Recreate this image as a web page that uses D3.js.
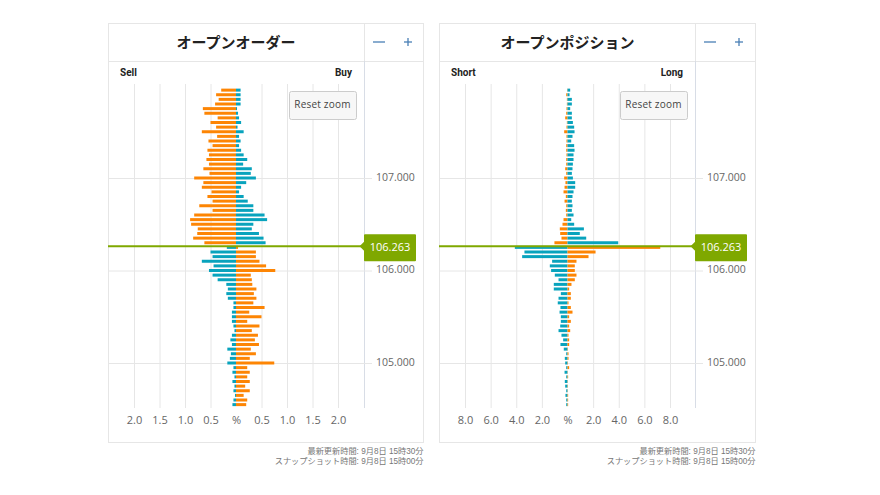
<!DOCTYPE html>
<html><head><meta charset="utf-8">
<script src="https://d3js.org/d3.v7.min.js"></script>
<style>html,body{margin:0;padding:0;background:#fff}svg{display:block}</style>
</head><body><svg id="c" width="880" height="495"></svg>
<script>
const prices=[107.95,107.90,107.85,107.80,107.75,107.70,107.65,107.60,107.55,107.50,107.45,107.40,107.35,107.30,107.25,107.20,107.15,107.10,107.05,107.00,106.95,106.90,106.85,106.80,106.75,106.70,106.65,106.60,106.55,106.50,106.45,106.40,106.35,106.30,106.25,106.20,106.15,106.10,106.05,106.00,105.95,105.90,105.85,105.80,105.75,105.70,105.65,105.60,105.55,105.50,105.45,105.40,105.35,105.30,105.25,105.20,105.15,105.10,105.05,105.00,104.95,104.90,104.85,104.80,104.75,104.70,104.65,104.60,104.55];
const orderLeft=[.29,.39,.34,.41,.65,.62,.36,.50,.39,.67,.37,.54,.46,.56,.53,.58,.53,.64,.52,.82,.64,.67,.48,.56,.46,.72,.46,.82,.90,.88,.75,.76,.84,.62,.18,.50,.46,.67,.44,.53,.46,.36,.19,.16,.19,.16,.05,.05,.08,.08,.08,.05,.03,.08,.11,.08,.17,.10,.12,.17,.05,.07,.03,.07,.03,.05,.02,.05,.07];
const orderRight=[.09,.09,.09,.09,.02,.04,.06,.10,.03,.15,.06,.09,.06,.10,.15,.22,.14,.31,.29,.39,.20,.10,.06,.15,.23,.34,.34,.56,.61,.34,.31,.45,.54,.58,.04,.39,.39,.46,.59,.77,.29,.31,.32,.40,.35,.40,.34,.56,.26,.50,.22,.46,.31,.43,.37,.45,.29,.39,.27,.75,.22,.27,.22,.27,.18,.27,.15,.22,.20];
const positionLeft=[.03,.10,.05,.05,.08,.10,.18,.05,.08,.26,.08,.08,.10,.10,.08,.10,.10,.18,.10,.26,.16,.23,.31,.13,.23,.10,.13,.10,.31,.39,.60,.57,.47,1.02,4.11,3.36,3.54,1.20,1.38,1.28,.99,.70,1.07,1.07,.52,.70,.76,.55,.62,.52,.52,.57,.70,.47,.34,.55,.29,.10,.21,.18,.10,.23,.10,.21,.18,.10,.16,.10,.10];
const positionRight=[.21,.16,.34,.34,.21,.34,.34,.42,.52,.55,.39,.29,.52,.55,.47,.47,.42,.39,.34,.42,.60,.60,.47,.39,.34,.39,.34,.47,.29,.52,1.28,.96,1.46,3.96,7.24,2.19,1.64,.70,.57,.57,.70,.57,.31,.13,.26,.26,.08,.26,.39,.13,.26,.13,.21,.08,.13,.13,.03,.08,.08,.03,.13,.02,.05,.02,.03,.02,.05,.05,.05];
const currentPrice=106.263;
const priceTicks=[107,106,105];
const orderTicks=[-2,-1.5,-1,-.5,0,.5,1,1.5,2];
const positionTicks=[-8,-6,-4,-2,0,2,4,6,8];
const footer=["最新更新時間: 9月8日 15時30分","スナップショット時間: 9月8日 15時00分"];

const ORANGE="#fd8504",TEAL="#08a3bd",GREEN="#7fa800",LINE="#e6e6e6",TXT="#666";
const FONT="'Open Sans',sans-serif",CJK="'Noto Sans CJK JP',sans-serif";
const svg=d3.select("#c");
const y=d3.scaleLinear().domain([105,107]).range([363,178]);

function panel(o){
  const g=svg.append("g");
  const W=o.x0, R=o.x0+o.w, D=o.div;
  g.append("rect").attr("x",W+.5).attr("y",23.5).attr("width",o.w).attr("height",419).attr("fill","#fff").attr("stroke",LINE);
  g.append("line").attr("x1",W).attr("x2",R).attr("y1",61.5).attr("y2",61.5).attr("stroke",LINE);
  g.append("line").attr("x1",D+.5).attr("x2",D+.5).attr("y1",23).attr("y2",61).attr("stroke",LINE);
  g.append("line").attr("x1",D+.5).attr("x2",D+.5).attr("y1",61).attr("y2",408).attr("stroke","#d8dde6");

  const x=d3.scaleLinear().domain(o.domain).range(o.range);
  const ax=g.append("g").attr("transform","translate(0,408)")
    .call(d3.axisBottom(x).tickValues(o.ticks).tickSize(-324).tickPadding(8)
      .tickFormat(t=>t===0?"%":Math.abs(t).toFixed(1)));
  ax.select(".domain").remove();
  ax.selectAll(".tick line").attr("stroke",LINE).attr("display",t=>t===0?"none":null);
  ax.selectAll("text").attr("font-family",FONT).attr("font-size",11).attr("fill",TXT);

  const gy=g.append("g").attr("transform",`translate(${D},0)`)
    .call(d3.axisLeft(y).tickValues(priceTicks).tickSize(D-W).tickFormat(""));
  gy.select(".domain").remove();
  gy.selectAll("line").attr("stroke",LINE);
  const ay=g.append("g").attr("transform",`translate(${D},0)`)
    .call(d3.axisRight(y).tickValues(priceTicks).tickSize(8).tickPadding(4).tickFormat(d3.format(".3f")));
  ay.select(".domain").remove();
  ay.selectAll("line").attr("stroke",LINE);
  ay.selectAll("text").attr("font-family",FONT).attr("font-size",10.5).attr("fill",TXT).attr("dy","0.2em");

  const rows=prices.map((p,i)=>({p,l:o.left[i],r:o.right[i]}));
  const h=3;
  g.append("g").selectAll("rect").data(rows).join("rect")
    .attr("x",d=>x(-d.l)).attr("width",d=>x(0)-x(-d.l))
    .attr("y",d=>y(d.p)-h/2).attr("height",h)
    .attr("fill",d=>d.p>currentPrice?ORANGE:TEAL);
  g.append("g").selectAll("rect").data(rows).join("rect")
    .attr("x",x(0)).attr("width",d=>x(d.r)-x(0))
    .attr("y",d=>y(d.p)-h/2).attr("height",h)
    .attr("fill",d=>d.p>currentPrice?TEAL:ORANGE);

  const cy=y(currentPrice);
  g.append("line").attr("x1",W).attr("x2",D).attr("y1",cy).attr("y2",cy).attr("stroke",GREEN).attr("stroke-width",2);
  g.append("path").attr("fill",GREEN).attr("stroke",GREEN).attr("stroke-width",2).attr("stroke-linejoin","round")
    .attr("d",`M${D-3},${cy}L${D+1},${cy-4}V${cy-11}H${D+51}V${cy+14}H${D+1}V${cy+4}Z`);
  g.append("text").attr("x",D+26).attr("y",cy+4.5).attr("text-anchor","middle").attr("fill","#fff")
    .attr("font-family",FONT).attr("font-size",11).text(currentPrice.toFixed(3));

  g.append("text").attr("x",o.titleX).attr("y",48).attr("text-anchor","middle").attr("font-family",CJK)
    .attr("font-weight",700).attr("font-size",15).attr("fill","#222").text(o.title);
  const bc="#4a7fb5";
  g.append("line").attr("x1",D+9).attr("x2",D+21).attr("y1",42).attr("y2",42).attr("stroke",bc).attr("stroke-width",1.3);
  g.append("line").attr("x1",D+40).attr("x2",D+48).attr("y1",42).attr("y2",42).attr("stroke",bc).attr("stroke-width",1.3);
  g.append("line").attr("x1",D+44).attr("x2",D+44).attr("y1",38).attr("y2",46).attr("stroke",bc).attr("stroke-width",1.3);

  g.append("text").attr("x",W+12).attr("y",76).attr("font-family","Roboto,sans-serif").attr("font-weight",700)
    .attr("font-size",10).attr("fill","#222").text(o.lLabel);
  g.append("text").attr("x",D-12).attr("y",76).attr("text-anchor","end").attr("font-family","Roboto,sans-serif").attr("font-weight",700)
    .attr("font-size",10).attr("fill","#222").text(o.rLabel);

  g.append("rect").attr("x",D-75+.5).attr("y",91.5).attr("width",67).attr("height",28).attr("rx",2)
    .attr("fill","#f7f7f7").attr("stroke","#cccccc");
  g.append("text").attr("x",D-41.5).attr("y",108).attr("text-anchor","middle").attr("font-family",FONT)
    .attr("font-size",10).attr("letter-spacing",.2).attr("fill","#444").text("Reset zoom");

  footer.forEach((t,i)=>g.append("text").attr("x",R+.5).attr("y",454+i*9.5).attr("text-anchor","end")
    .attr("font-family","'Liberation Sans','Noto Sans CJK JP',sans-serif").attr("font-size",8.2).attr("fill","#777").text(t));
}
panel({x0:108,w:315,div:364,title:"オープンオーダー",titleX:236,lLabel:"Sell",rLabel:"Buy",
  domain:[-2,2],range:[134,338],ticks:orderTicks,left:orderLeft,right:orderRight});
panel({x0:439,w:316,div:695,title:"オープンポジション",titleX:567.5,lLabel:"Short",rLabel:"Long",
  domain:[-8,8],range:[465,670],ticks:positionTicks,left:positionLeft,right:positionRight});
</script></body></html>
